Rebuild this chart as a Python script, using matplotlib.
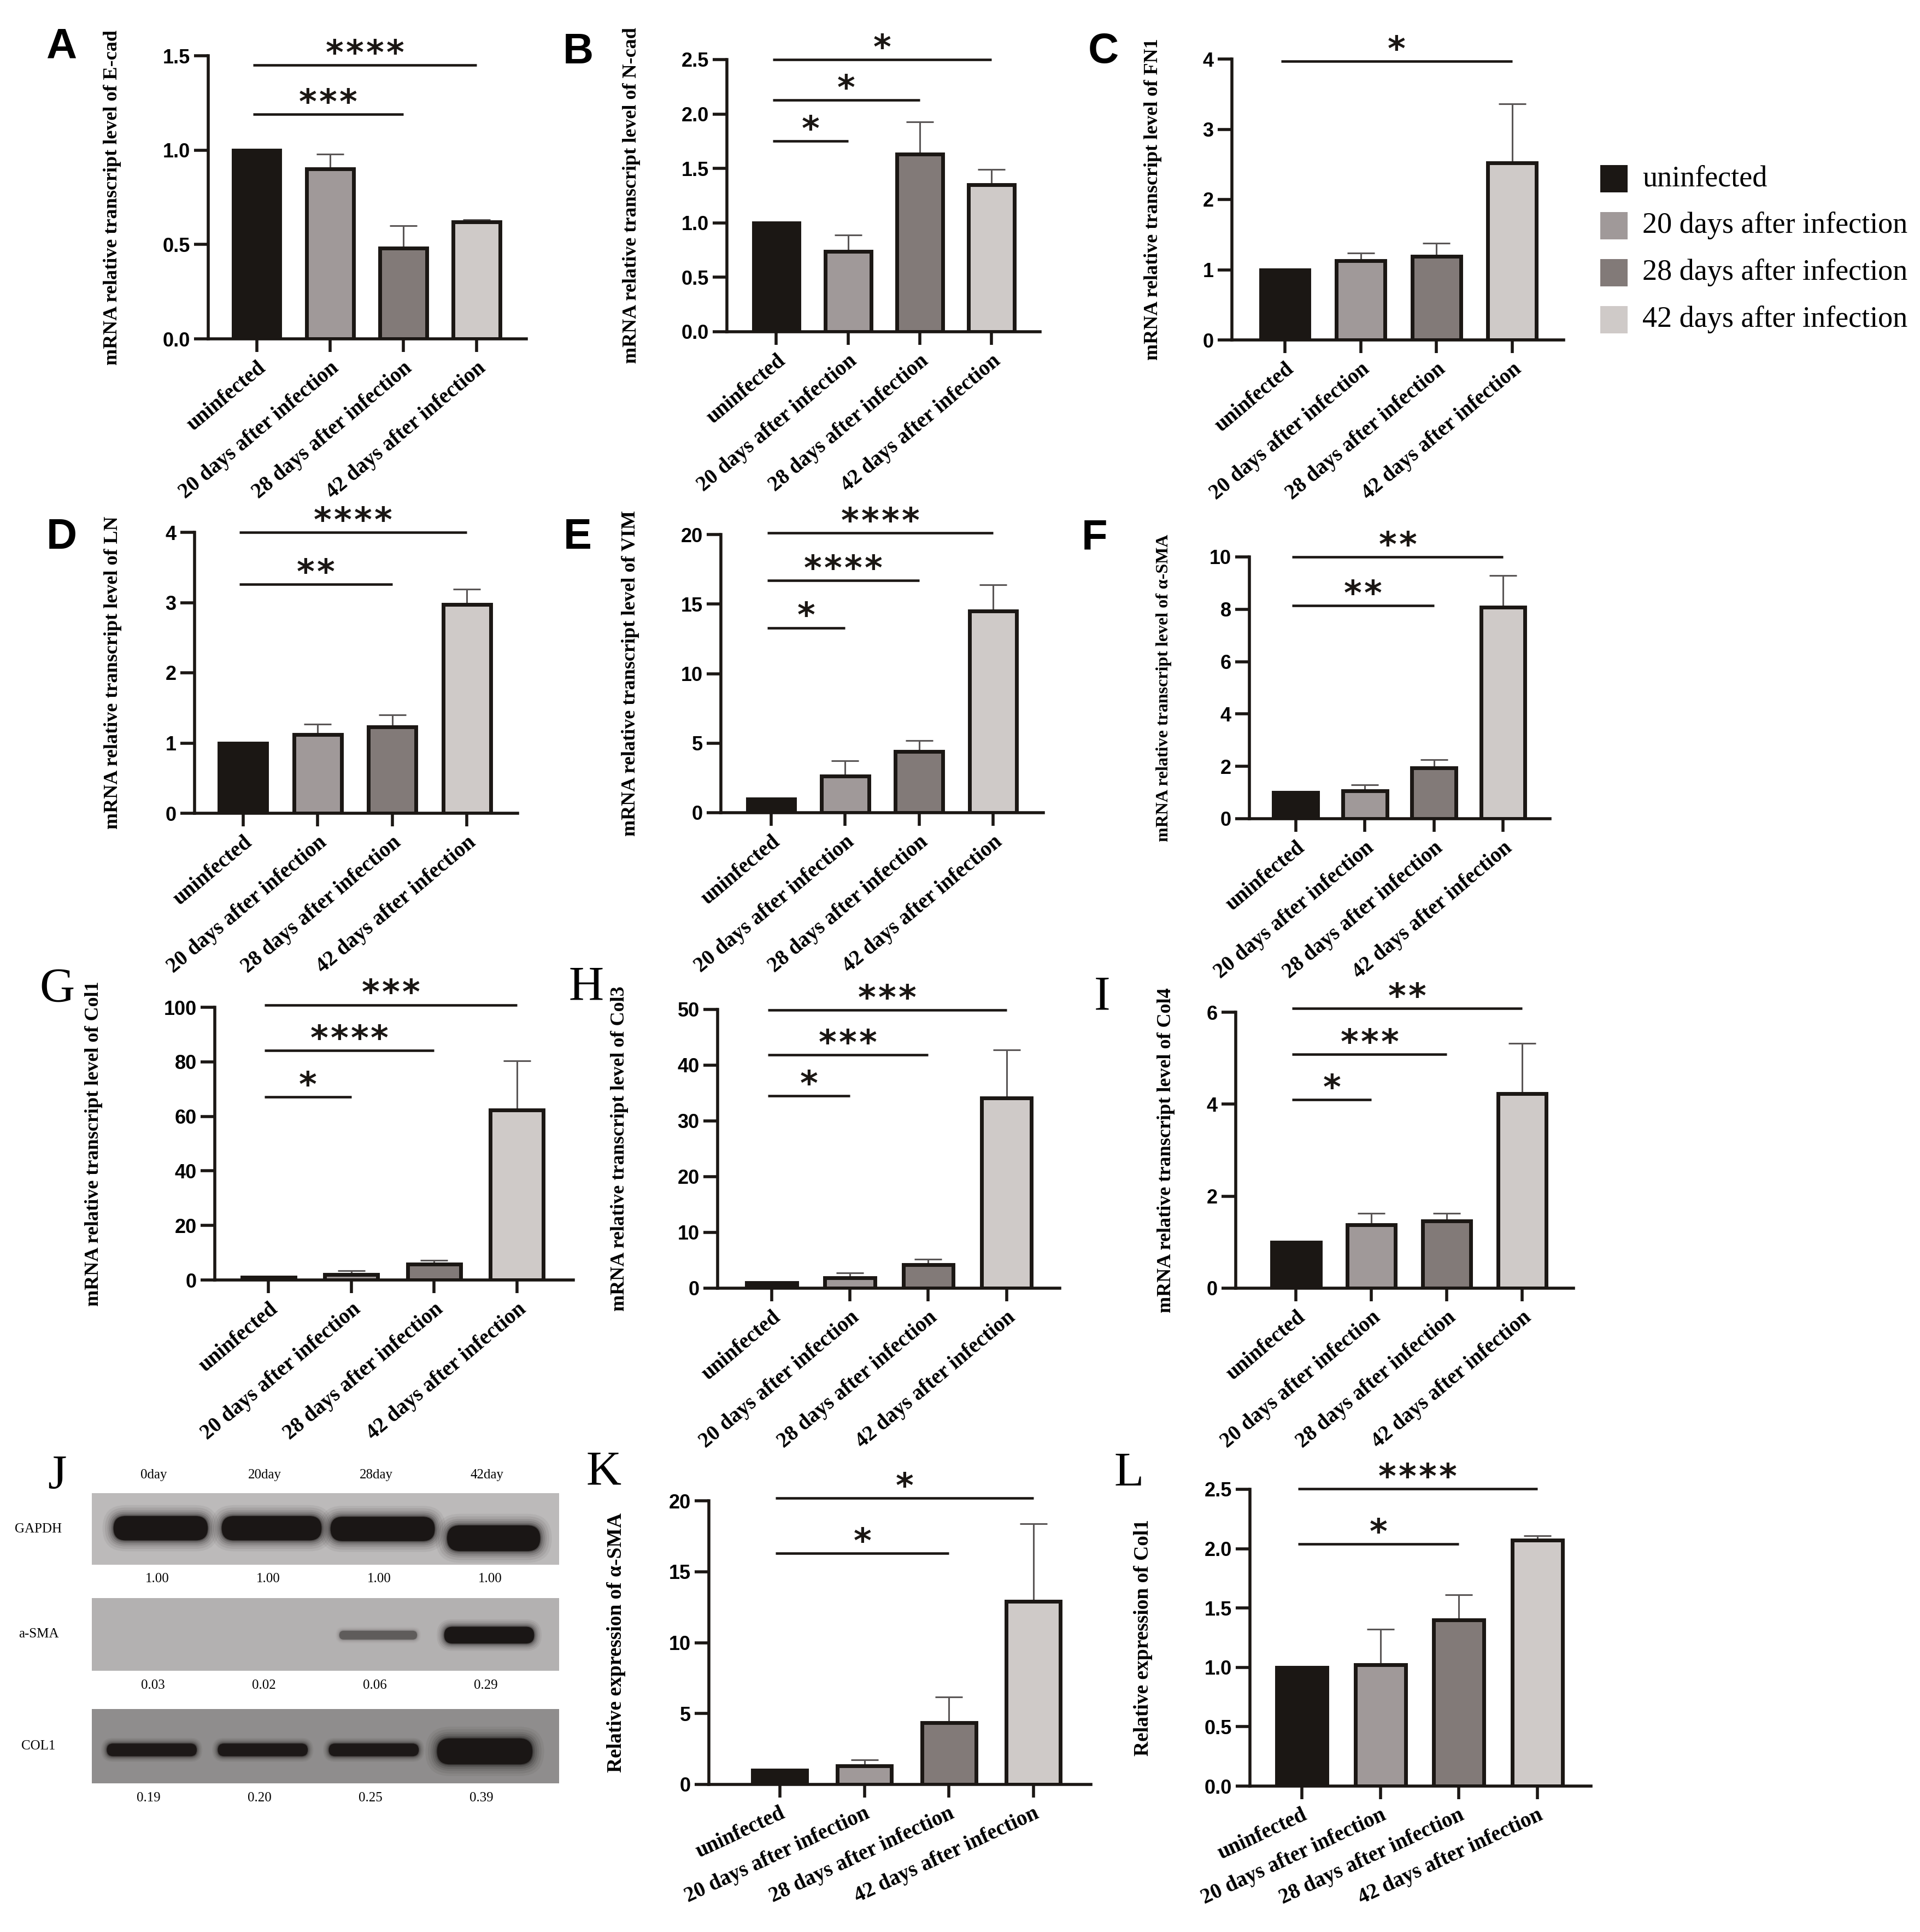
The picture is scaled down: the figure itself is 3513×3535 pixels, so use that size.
import matplotlib
matplotlib.use("Agg")
import matplotlib.pyplot as plt
from matplotlib.patches import Rectangle, FancyBboxPatch
import matplotlib.transforms as mtransforms
import numpy as np

W, H = 3513, 3535

groups = ['uninfected', '20 days after infection', '28 days after infection', '42 days after infection']
colors = ['#1b1714', '#a09999', '#827a78', '#cfcac8']

# qPCR, mean and upper SD
ecad_mean = [1.00, 0.90, 0.48, 0.62]
ecad_err = [0, 0.08, 0.12, 0.01]
ncad_mean = [1.00, 0.74, 1.63, 1.35]
ncad_err = [0, 0.15, 0.30, 0.14]
fn1_mean = [1.00, 1.13, 1.19, 2.52]
fn1_err = [0, 0.11, 0.19, 0.84]
ln_mean = [1.00, 1.12, 1.23, 2.97]
ln_err = [0, 0.15, 0.17, 0.22]
vim_mean = [1.0, 2.65, 4.4, 14.5]
vim_err = [0, 1.1, 0.77, 1.9]
asma_mean = [1.0, 1.07, 1.95, 8.08]
asma_err = [0, 0.23, 0.31, 1.21]
col1_mean = [1.0, 2.1, 5.9, 62.3]
col1_err = [0, 1.4, 1.4, 18.1]
col3_mean = [1.0, 1.9, 4.2, 34.1]
col3_err = [0, 0.8, 0.95, 8.6]
col4_mean = [1.0, 1.38, 1.46, 4.23]
col4_err = [0, 0.25, 0.17, 1.09]
# western blot quantification
wb_asma_mean = [1.0, 1.3, 4.35, 12.9]
wb_asma_err = [0, 0.42, 1.8, 5.5]
wb_col1_mean = [1.0, 1.02, 1.40, 2.07]
wb_col1_err = [0, 0.30, 0.21, 0.04]

# significance brackets: (group compared with uninfected, y, stars)
ecad_sig = [(3, 1.45, '****'), (2, 1.19, '***')]
ncad_sig = [(3, 2.5, '*'), (2, 2.13, '*'), (1, 1.75, '*')]
fn1_sig = [(3, 3.97, '*')]
ln_sig = [(3, 4.0, '****'), (2, 3.26, '**')]
vim_sig = [(3, 20.1, '****'), (2, 16.7, '****'), (1, 13.3, '*')]
asma_sig = [(3, 10.0, '**'), (2, 8.14, '**')]
col1_sig = [(3, 100.9, '***'), (2, 84.1, '****'), (1, 67.2, '*')]
col3_sig = [(3, 49.9, '***'), (2, 41.9, '***'), (1, 34.5, '*')]
col4_sig = [(3, 6.08, '**'), (2, 5.08, '***'), (1, 4.10, '*')]
wb_asma_sig = [(3, 20.2, '*'), (2, 16.3, '*')]
wb_col1_sig = [(3, 2.505, '****'), (2, 2.04, '*')]

# blot
blot_lanes = ['0day', '20day', '28day', '42day']
blot_proteins = ['GAPDH', 'a-SMA', 'COL1']
gapdh_ratio = [1.00, 1.00, 1.00, 1.00]
asma_ratio = [0.03, 0.02, 0.06, 0.29]
col1_ratio = [0.19, 0.20, 0.25, 0.39]
gapdh_band = [1.0, 1.0, 1.0, 1.0]
asma_band = [0.0, 0.0, 0.35, 1.0]
col1_band = [0.95, 0.95, 0.95, 1.0]

fig = plt.figure(figsize=(W / 100, H / 100), dpi=100)


def px_axes(l, t, r, b):
    return fig.add_axes([l / W, 1 - b / H, (r - l) / W, (b - t) / H])


def bar_panel(mean, err, sig, ticks, fmt, ylabel, box, xleft, ylab_x, rot=40, ylab_size=26):
    l, t, r, b = box
    ax = px_axes(l, t, r, b)
    x = np.arange(len(groups))
    ax.errorbar(x, mean, yerr=[np.zeros(len(err)), err], fmt='none', ecolor='#5a5656',
                elinewidth=2.2, capsize=18, capthick=2.2, zorder=1)
    ax.bar(x, mean, width=0.64, color=colors, edgecolor='#1b1714', linewidth=5, zorder=2)
    ax.set_xlim(xleft, 3.68)
    ax.set_ylim(0, ticks[-1])
    for s in ['top', 'right']:
        ax.spines[s].set_visible(False)
    for s in ['left', 'bottom']:
        ax.spines[s].set_linewidth(4)
        ax.spines[s].set_color('#1b1714')
    ax.spines['left'].set_bounds(0, ticks[-1])
    ax.set_yticks(ticks, labels=[fmt % v for v in ticks], fontsize=26,
                  fontweight='bold', family='Liberation Sans')
    ax.set_xticks(x, labels=groups, rotation=rot, ha='right', va='top',
                  rotation_mode='anchor', fontsize=28, fontweight='bold', family='Liberation Serif')
    ax.tick_params(axis='y', length=19, width=4, pad=5, color='#1b1714')
    ax.tick_params(axis='x', length=17, width=4, pad=8, color='#1b1714')
    ax.set_ylabel(ylabel, fontsize=ylab_size, fontweight='bold', family='Liberation Serif', va='center')
    ax.yaxis.set_label_coords((ylab_x - l) / (r - l), 0.5)
    for j, y, stars in sig:
        ax.plot([-0.05, j], [y, y], color='#1b1714', lw=3.3, clip_on=False, solid_capstyle='butt')
        n = len(stars)
        for k in range(n):
            # one glyph per star, 37 px apart like the original
            ax.annotate('*', xy=((j - 0.05) / 2, y), xytext=((k - (n - 1) / 2) * 26.6, 1.5),
                        textcoords='offset points', ha='center', va='baseline', fontsize=45,
                        fontweight='bold', family='DejaVu Sans', annotation_clip=False,
                        color='#1b1714')
    return ax


bar_panel(ecad_mean, ecad_err, ecad_sig, [0, 0.5, 1.0, 1.5], '%.1f',
          'mRNA relative transcript level of E-cad', (381, 102, 963, 620), -0.66, 205)
bar_panel(ncad_mean, ncad_err, ncad_sig, [0, 0.5, 1.0, 1.5, 2.0, 2.5], '%.1f',
          'mRNA relative transcript level of N-cad', (1330, 109, 1903, 607), -0.69, 1155)
bar_panel(fn1_mean, fn1_err, fn1_sig, [0, 1, 2, 3, 4], '%d',
          'mRNA relative transcript level of FN1', (2254, 108, 2861, 622), -0.70, 2109)
bar_panel(ln_mean, ln_err, ln_sig, [0, 1, 2, 3, 4], '%d',
          'mRNA relative transcript level of LN', (356, 974, 947, 1488), -0.65, 207)
bar_panel(vim_mean, vim_err, vim_sig, [0, 5, 10, 15, 20], '%d',
          'mRNA relative transcript level of VIM', (1319, 978, 1909, 1487), -0.68, 1153)
bar_panel(asma_mean, asma_err, asma_sig, [0, 2, 4, 6, 8, 10], '%d',
          'mRNA relative transcript level of α-SMA', (2286, 1019, 2836, 1498), -0.67, 2129, ylab_size=23)
bar_panel(col1_mean, col1_err, col1_sig, [0, 20, 40, 60, 80, 100], '%d',
          'mRNA relative transcript level of Col1', (393, 1843, 1049, 2342), -0.65, 172)
bar_panel(col3_mean, col3_err, col3_sig, [0, 10, 20, 30, 40, 50], '%d',
          'mRNA relative transcript level of Col3', (1313, 1847, 1939, 2357), -0.69, 1133)
bar_panel(col4_mean, col4_err, col4_sig, [0, 2, 4, 6], '%d',
          'mRNA relative transcript level of Col4', (2261, 1852, 2879, 2357), -0.80, 2133)
bar_panel(wb_asma_mean, wb_asma_err, wb_asma_sig, [0, 5, 10, 15, 20], '%d',
          'Relative expression of α-SMA', (1297, 2746, 1996, 3265), -0.84, 1127, rot=25, ylab_size=27)
bar_panel(wb_col1_mean, wb_col1_err, wb_col1_sig, [0, 0.5, 1.0, 1.5, 2.0, 2.5], '%.1f',
          'Relative expression of Col1', (2287, 2725, 2911, 3268), -0.66, 2091, rot=25, ylab_size=27)

# western blot strips (J)
strips = [
    (blot_proteins[0], gapdh_ratio, gapdh_band, '#bcbaba', (168, 2732, 1023, 2863),
     [0.34, 0.34, 0.34, 0.36], [0.85, 0.90, 0.94, 0.84], [0.49, 0.49, 0.50, 0.63], 0.0),
    (blot_proteins[1], asma_ratio, asma_band, '#b3b1b1', (168, 2924, 1023, 3057),
     [0.1, 0.1, 0.12, 0.23], [0.7, 0.7, 0.70, 0.81], [0.51, 0.51, 0.51, 0.51], -0.04),
    (blot_proteins[2], col1_ratio, col1_band, '#8f8d8d', (168, 3127, 1023, 3263),
     [0.17, 0.17, 0.17, 0.35], [0.81, 0.81, 0.81, 0.86], [0.55, 0.55, 0.55, 0.57], -0.08),
]
blur = [(1.9, 0.06), (1.7, 0.08), (1.5, 0.1), (1.35, 0.14), (1.2, 0.2), (1.08, 0.35), (1.0, 1.0)]
for k, (name, ratio, band, bg, box, bh, bw, by, dx) in enumerate(strips):
    l, t, r, b = box
    ax = px_axes(l, t, r, b)
    ax.set_xlim(-0.62, 3.59)
    ax.set_ylim(1, 0)
    ax.set_facecolor(bg)
    ax.set_xticks([])
    ax.set_yticks([])
    for s in ax.spines.values():
        s.set_visible(False)
    unit_px = (r - l) / 4.21
    strip_px = b - t
    m = unit_px / strip_px
    for i, dark in enumerate(band):
        if dark <= 0:
            continue
        for f, a in blur:
            hh = bh[i] * f
            ww = bw[i] + (f - 1) * bh[i] * strip_px / unit_px
            rad = 0.5 * hh * strip_px / unit_px
            ax.add_patch(FancyBboxPatch((i + dx - ww / 2, by[i] - hh / 2), ww, hh,
                                        boxstyle='round,pad=0,rounding_size=%f' % rad,
                                        mutation_aspect=m, facecolor='#1a1615',
                                        edgecolor='none', alpha=min(1.0, a * dark)))
    tr = mtransforms.blended_transform_factory(ax.transData, ax.transAxes)
    for i, v in enumerate(ratio):
        ax.text(i + dx - 0.03, -0.2, '%.2f' % v, transform=tr, ha='center', va='center',
                fontsize=18, family='Liberation Serif')
    ax.text(-1.1, 0.5, name, transform=tr, ha='center', va='center',
            fontsize=18, family='Liberation Serif')
    if k == 0:
        for i, lane in enumerate(blot_lanes):
            ax.text(i - 0.06, 1.25, lane, transform=tr, ha='center', va='center',
                    fontsize=18, family='Liberation Serif')

# legend
for i, (g, c) in enumerate(zip(groups, colors)):
    y = 327 + 86 * i
    fig.add_artist(Rectangle((2928 / W, 1 - (y + 25) / H), 50 / W, 50 / H,
                             transform=fig.transFigure, facecolor=c, edgecolor='none'))
    fig.text(3005 / W, 1 - y / H, g, ha='left', va='center', fontsize=39, family='Liberation Serif')

# panel letters
sans_letters = [('A', 112, 86), ('B', 1058, 95), ('C', 2019, 94),
                ('D', 113, 984), ('E', 1057, 984), ('F', 2002, 985)]
serif_letters = [('G', 104, 1810), ('H', 1073, 1807), ('I', 2017, 1825),
                 ('J', 104, 2701), ('K', 1105, 2694), ('L', 2066, 2696)]
for s, x, y in sans_letters:
    fig.text(x / W, 1 - y / H, s, ha='center', va='center', fontsize=56,
             fontweight='bold', family='Liberation Sans')
for s, x, y in serif_letters:
    fig.text(x / W, 1 - y / H, s, ha='center', va='center', fontsize=64, family='Liberation Serif')

fig.savefig('out.png', dpi=100, facecolor='white')
